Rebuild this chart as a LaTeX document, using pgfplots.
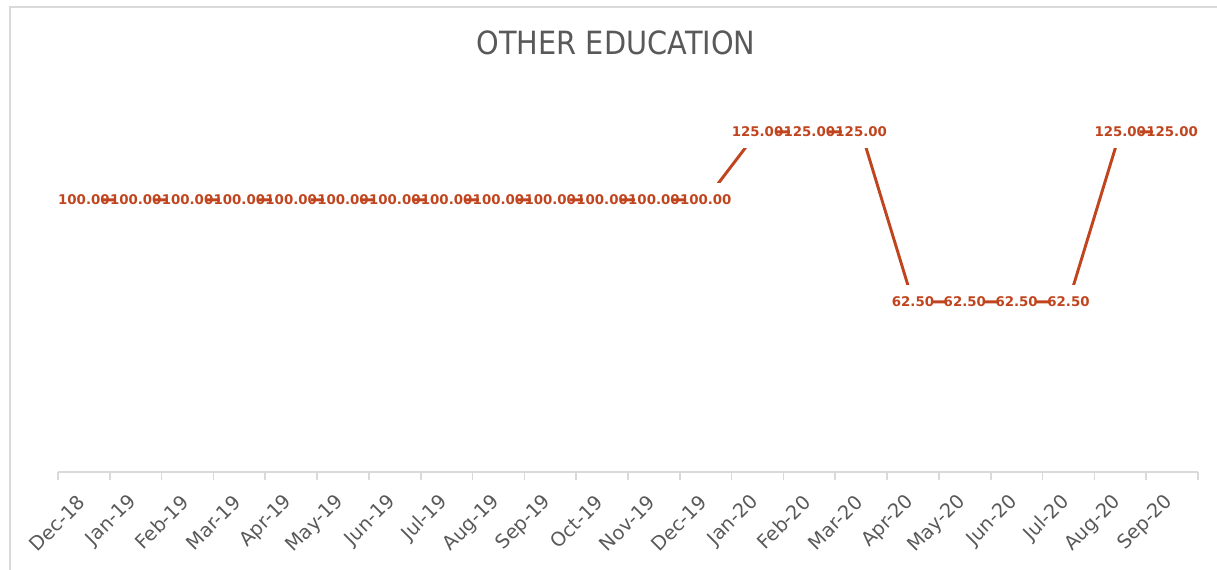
\documentclass[border=0pt]{standalone}
\usepackage{pgfplots}
\pgfplotsset{compat=1.18}
\usepackage{fontspec}
\setmainfont{DejaVu Sans}
\definecolor{serie}{HTML}{C0441E}
\definecolor{txtgray}{HTML}{595959}
\definecolor{axgray}{HTML}{D9D9D9}
\begin{document}
\begin{tikzpicture}[x=1pt,y=1pt]
\useasboundingbox (0,0) rectangle (912.75,427.5);
\draw[axgray, line width=1.5pt] (7.5,0) -- (7.5,422.6) -- (912.75,422.6);
\node[font=\fontsize{24}{28}\selectfont, text=txtgray, xscale=0.9] at (462,395) {OTHER EDUCATION};
\begin{axis}[
  at={(43.5pt,73.5pt)}, anchor=south west,
  scale only axis, width=855pt, height=285.75pt,
  xmin=-0.5, xmax=21.5, ymin=0, ymax=140,
  axis x line=bottom, axis y line=none,
  axis line style={-, draw=axgray, line width=1.5pt},
  xtick={0,...,21},
  xticklabels={Dec-18,Jan-19,Feb-19,Mar-19,Apr-19,May-19,Jun-19,Jul-19,Aug-19,Sep-19,Oct-19,Nov-19,Dec-19,Jan-20,Feb-20,Mar-20,Apr-20,May-20,Jun-20,Jul-20,Aug-20,Sep-20},
  major tick length=0pt,
  minor xtick={-0.5,0.5,...,21.5},
  minor tick length=6pt,
  xtick align=outside,
  minor tick style={draw=axgray, line width=1.2pt},
  xticklabel style={rotate=45, anchor=east, font=\fontsize{14.5}{16}\selectfont, text=txtgray, xshift=-12pt, yshift=-13pt},
  ytick=\empty,
  clip=false,
  nodes near coords={\makebox[0pt]{\pgfmathprintnumber[fixed,fixed zerofill,precision=2,assume math mode=true]{\pgfplotspointmeta}}},
  every node near coord/.append style={anchor=center, fill=white, inner sep=0pt, minimum width=29pt, minimum height=25pt, font=\bfseries\fontsize{10}{12}\selectfont, text=serie},
]
\addplot[serie, line width=2.2pt, mark=none] table {
x y
0 100
1 100
2 100
3 100
4 100
5 100
6 100
7 100
8 100
9 100
10 100
11 100
12 100
13 125
14 125
15 125
16 62.5
17 62.5
18 62.5
19 62.5
20 125
21 125
};
\end{axis}
\end{tikzpicture}
\end{document}
